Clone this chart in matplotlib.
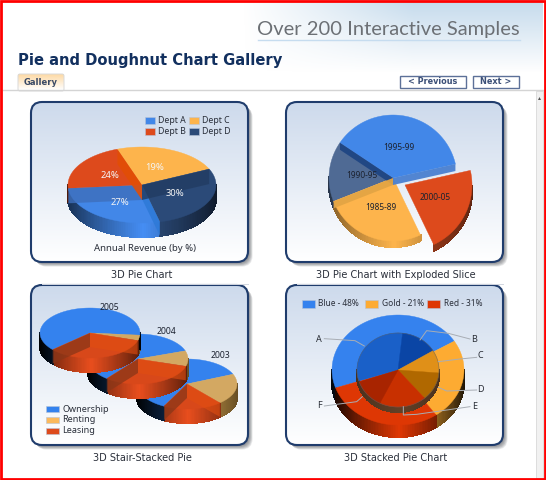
import numpy as np
import matplotlib
matplotlib.use("Agg")
import matplotlib.pyplot as plt
from matplotlib.patches import FancyBboxPatch, Rectangle
from matplotlib.collections import PolyCollection
from matplotlib.colors import to_rgb

# Dane (szerokosc wycinka w % obwodu)
dept_names = ["Dept A", "Dept C", "Dept B", "Dept D"]
dept_shares = [27.5, 21, 23.5, 28]   # blue, red, gold, navy
dept_labels = ["27%", "24%", "19%", "30%"]

period_names = ["1995-99", "2000-05", "1985-89", "1990-95"]
period_shares = [37, 21.5, 26, 15.5]

stair_years = ["2003", "2004", "2005"]
stair_names = ["Ownership", "Renting", "Leasing"]
stair_own = [61, 59, 63]
stair_rent = [20, 10, 3.5]
stair_lease = [19, 31, 33.5]

outer_names = ["Blue - 48%", "Gold - 21%", "Red - 31%"]
outer_shares = [46.5, 24, 29.5]
inner_names = ["A", "B", "C", "D", "E", "F"]
inner_shares = [31.5, 14.5, 10, 12.5, 18.5, 12.5]

BLUE = "#4287e8"
RED = "#dd4a1c"
GOLD = "#fdb44c"
NAVY = "#2b4a78"
SLATE = "#4f6a94"
TEXT = "#2a2f3a"
LABEL_FONT = "Noto Sans"


def shade(color, k):
    return tuple(min(1, c * k) for c in to_rgb(color))


def rim(cx, cy, rx, ry, a):
    # kat liczony od gory zgodnie z ruchem wskazowek zegara
    r = np.radians(a)
    return cx + rx * np.sin(r), cy - ry * np.cos(r)


def angles_from(shares, start):
    edges = [start]
    for s in shares:
        edges.append(edges[-1] + s * 3.6)
    return edges


def top_face(ax, cx, cy, rx, ry, a0, a1, color):
    t = np.linspace(a0, a1, 60)
    xs, ys = rim(cx, cy, rx, ry, t)
    ax.fill(np.r_[cx, xs], np.r_[cy, ys], color=color, lw=0.3)


def wall(ax, cx, cy, rx, ry, depth, a0, a1, color, low=0.35, high=1.05):
    # sciana boczna z gradientem, ciemna na brzegach
    polys, cols = [], []
    steps = np.arange(a0, a1, 1.5)
    for a in steps:
        b = min(a + 1.5, a1)
        if np.cos(np.radians((a + b) / 2)) >= 0:
            continue
        x0, y0 = rim(cx, cy, rx, ry, a)
        x1, y1 = rim(cx, cy, rx, ry, b)
        polys.append([(x0, y0), (x1, y1), (x1, y1 + depth), (x0, y0 + depth)])
        t = abs(np.sin(np.radians((a + b) / 2)))
        cols.append(shade(color, low + (high - low) * (1 - t) ** 0.8))
    if polys:
        ax.add_collection(PolyCollection(polys, facecolors=cols, edgecolors=cols, linewidths=0.8,
                                         antialiaseds=False))


def band(ax, cx, cy, rx, ry, depth, a, color, alpha=0.8):
    # widoczna przez przezroczysty wierzch scianka promieniowa
    x, y = rim(cx, cy, rx, ry, a)
    ax.fill([cx, x, x, cx], [cy, y, y + depth, cy + depth], color=color, alpha=alpha, lw=0)


def panel(ax, x0, y0, x1, y1):
    for i in range(7):
        ax.add_patch(FancyBboxPatch((x0 + 1 + i * 0.6, y0 + 1 + i * 0.6), x1 - x0, y1 - y0,
                                    boxstyle="round,pad=0,rounding_size=11", fc="#30343c",
                                    ec="none", alpha=0.1))
    box = FancyBboxPatch((x0, y0), x1 - x0, y1 - y0, boxstyle="round,pad=0,rounding_size=11",
                         fc="white", ec="none")
    ax.add_patch(box)
    grad = np.linspace(0, 1, 100)[:, None, None]
    img = (1 - grad) * np.array(to_rgb("#cddaec")) + grad * np.array(to_rgb("#ffffff"))
    im = ax.imshow(img, extent=(x0, x1, y1, y0), aspect="auto", zorder=1)
    im.set_clip_path(box)
    ax.add_patch(FancyBboxPatch((x0, y0), x1 - x0, y1 - y0, boxstyle="round,pad=0,rounding_size=11",
                                fc="none", ec="#1f3c6c", lw=1.5))


def legend_item(ax, x, y, w, h, color, label, size=6.3):
    ax.add_patch(Rectangle((x, y - h / 2), w, h, fc=color, ec="#b8c4d8", lw=0.4))
    ax.text(x + w + 3.5, y, label, fontsize=size, va="center", color=TEXT, family=LABEL_FONT)


fig = plt.figure(figsize=(5.46, 4.8), dpi=100)
ax = fig.add_axes([0, 0, 1, 1])

# Naglowek
yy, xx = np.mgrid[0:90, 0:300]
head = np.zeros((90, 300, 4))
head[..., :3] = to_rgb("#c4daec")
head[..., 3] = np.clip(xx / 170, 0, 1) * np.clip(1 - yy / 72, 0, 1)
ax.imshow(head, extent=(243, 543, 90, 0), aspect="auto", zorder=0)
ax.text(257, 29.5, "Over 200 Interactive Samples", fontsize=14.5, family="Lato", color="#6c7075", va="center")
ax.plot([258, 520], [40, 40], color="#c6dcef", lw=1)
ax.text(18, 60.5, "Pie and Doughnut Chart Gallery", fontsize=10.6, weight="bold", color="#12305f", va="center")

# Zakladka i przyciski
tab = np.linspace(0, 1, 40)[:, None, None]
ax.imshow((1 - tab) * np.array(to_rgb("#fdd9a4")) + tab * np.array([1, 1, 1]), extent=(18, 64, 90, 74), aspect="auto")
ax.add_patch(FancyBboxPatch((18, 74), 46, 17, boxstyle="round,pad=0,rounding_size=2", fc="none", ec="#d9d9d9", lw=0.7))
ax.text(41, 82.5, "Gallery", fontsize=6, weight="bold", color="#3a4a66", ha="center", va="center")
for x0, x1, lab in [(400, 465.5, "< Previous"), (472.5, 519, "Next >")]:
    ax.add_patch(Rectangle((x0, 75.5), x1 - x0, 12, fc="white", ec="#5c7098", lw=1))
    ax.text((x0 + x1) / 2, 81.7, lab, fontsize=5.9, weight="bold", color="#3c5078", ha="center", va="center")
ax.plot([3, 543], [90, 90], color="#d4d4d4", lw=1)

# Pasek przewijania
ax.add_patch(Rectangle((536, 91), 7, 387, fc="#f1f1f1", ec="#d8d8d8", lw=0.6))
ax.fill([538, 541, 539.5], [100, 100, 97], color="#555555", lw=0)

# Panele
panel(ax, 31, 102, 248, 262)
panel(ax, 286, 102, 503, 262)
panel(ax, 31, 285, 248, 445)
panel(ax, 286, 285, 503, 445)

# 1. Wykres 3D
cx, cy, rx, ry, depth = 142, 185, 74, 38, 14
colors = [BLUE, RED, GOLD, NAVY]
edges = angles_from(dept_shares, 166)
for i in range(4):
    wall(ax, cx, cy, rx, ry, depth, edges[i], edges[i + 1], colors[i])
for i in range(4):
    top_face(ax, cx, cy, rx, ry, edges[i], edges[i + 1], colors[i])
band(ax, cx, cy, rx, ry, 14, edges[0], "#2f7ad8", 0.9)
band(ax, cx, cy, rx, ry, 15, edges[1], "#3e6fbc")
band(ax, cx, cy, rx, ry, 15, edges[2], "#e24e05", 0.9)
band(ax, cx, cy, rx, ry, 15, edges[3], "#223c62")
label_xy = [(120, 202.5), (110, 176), (155, 168), (175, 194)]
for (x, y), lab in zip(label_xy, dept_labels):
    ax.text(x, y, lab, fontsize=6.8, color="#f4f4f4", ha="center", va="center", family=LABEL_FONT)
for (x, y, c), lab in zip([(145, 120.5, BLUE), (189, 120.5, GOLD), (145, 131.5, RED), (189, 131.5, NAVY)], dept_names):
    legend_item(ax, x, y, 10, 7, c, lab)
ax.text(145, 248.5, "Annual Revenue (by %)", fontsize=6.9, color=TEXT, ha="center", va="center", family=LABEL_FONT)

# 2. Wykres z wysunietym wycinkiem
cx, cy, rx, ry, depth = 393, 178, 64, 63, 6
colors = [BLUE, RED, GOLD, SLATE]
edges = angles_from(period_shares, 304)
for i in (0, 2, 3):
    wall(ax, cx, cy, rx, ry, depth, edges[i], edges[i + 1], colors[i], 0.5, 1.0)
wall(ax, cx + 12, cy + 7, rx + 3, ry + 3, depth, edges[1], edges[2], "#a8401c", 0.55, 1.0)
for i in (3, 2, 0):
    top_face(ax, cx, cy, rx, ry, edges[i], edges[i + 1], colors[i])
band(ax, cx, cy, rx, ry, 7, edges[0], "#1f4583", 0.95)
band(ax, cx, cy, rx, ry, 7, edges[3], "#e3a544", 0.95)
band(ax, cx, cy, rx, ry, 7, edges[1], "#4a80d0", 0.95)
top_face(ax, cx + 12, cy + 7, rx + 3, ry + 3, edges[1], edges[2], RED)
label_xy = [(399, 148), (435, 197), (381, 207.5), (362, 175)]
for (x, y), lab in zip(label_xy, period_names):
    ax.text(x, y, lab, fontsize=6, color="#1c2230", ha="center", va="center", family=LABEL_FONT)

# 3. Schodkowy
stair_pos = [(187, 384), (138, 359), (90, 333)]
year_pos = [(220, 356), (166, 331), (109, 307)]
for k in range(3):
    cx, cy = stair_pos[k]
    rx, ry, depth = 50, 25, 14
    edges = angles_from([stair_rent[k], stair_lease[k], stair_own[k]], [67, 71, 95][k])
    wall_cols = [("#c89848", 0.5, 1.0), (RED, 0.35, 1.05), ("#1c5cae", 0.02, 0.55)]
    for i in range(3):
        wall(ax, cx, cy, rx, ry, depth, edges[i], edges[i + 1], wall_cols[i][0], wall_cols[i][1], wall_cols[i][2])
    top_face(ax, cx, cy, rx, ry, edges[2], edges[3], "#3482ee")
    top_face(ax, cx, cy, rx, ry, edges[0], edges[1], "#d3a862")
    top_face(ax, cx, cy, rx, ry, edges[1], edges[2], "#d8481a")
    band(ax, cx, cy, rx, ry, 14, edges[2], "#8a3618", 0.75)
    band(ax, cx, cy, rx, ry, 14, edges[1], "#e24e10", 0.6)
    ax.text(year_pos[k][0], year_pos[k][1], stair_years[k], fontsize=6.2, color="#1c2230", ha="center", va="center",
            family=LABEL_FONT)
for (y, c), lab in zip([(409, "#3482ee"), (420, "#fbb95c"), (430.5, "#dd4a1c")], stair_names):
    legend_item(ax, 46, y, 13, 6, c, lab, 6.5)

# 4. Podwojny
cx, cy, rx, ry, depth = 398, 370, 66, 55, 12
colors = ["#3582ee", "#fdab32", "#de3704"]
edges = angles_from(outer_shares, 251)
for i, c in enumerate(colors):
    wall(ax, cx, cy, rx, ry, depth, edges[i], edges[i + 1], c, 0.1 if i == 1 else 0.05, 1.0)
for i, c in enumerate(colors):
    top_face(ax, cx, cy, rx, ry, edges[i], edges[i + 1], c)
irx, iry = 41, 37
inner_cols = ["#1a60c8", "#0a45a5", "#e09018", "#b06800", "#c83000", "#a82400"]
edges = angles_from(inner_shares, 253)
wall(ax, cx, cy, irx, iry, 5, 90, 270, "#7a5030", 0.6, 0.8)
for i, c in enumerate(inner_cols):
    top_face(ax, cx, cy, irx, iry, edges[i], edges[i + 1], c)
t = np.linspace(0, 360, 120)
xs, ys = rim(cx, cy, irx, iry, t)
ax.plot(xs, ys, color="#5c5f64", lw=0.5, alpha=0.6)
# linie odniesienia
leaders = {"A": [(148, 176), (240, 182), (268, 198)], "B": [(585, 177), (520, 160), (455, 152), (435, 180)],
           "C": [(605, 232), (555, 237), (490, 245)], "D": [(605, 330), (515, 333), (490, 322)],
           "E": [(585, 380), (425, 403), (385, 405), (385, 380)], "F": [(148, 378), (245, 365), (262, 350)]}
name_pos = {"A": (133, 178), "B": (598, 178), "C": (617, 228), "D": (617, 330), "E": (598, 380), "F": (133, 378)}
for n in inner_names:
    pts = np.array(leaders[n]) / 3 + [275, 280]
    ax.plot(pts[:, 0], pts[:, 1], color="#a8adb4", lw=0.7)
    ax.text(275 + name_pos[n][0] / 3, 280 + name_pos[n][1] / 3, n, fontsize=6.5, color="#2a2e36",
            ha="center", va="center", family=LABEL_FONT)
for x, c, lab in zip([302, 365, 427], colors, outer_names):
    legend_item(ax, x, 304, 13, 8, c, lab, 6)

# Podpisy
ax.text(142, 275.5, "3D Pie Chart", fontsize=7, color=TEXT, ha="center", va="center")
ax.text(396, 275.5, "3D Pie Chart with Exploded Slice", fontsize=7, color=TEXT, ha="center", va="center")
ax.text(142, 458, "3D Stair-Stacked Pie", fontsize=7, color=TEXT, ha="center", va="center")
ax.text(396, 458, "3D Stacked Pie Chart", fontsize=7, color=TEXT, ha="center", va="center")
ax.plot([42, 248], [284, 284], color="#d2d6e0", lw=0.7)
ax.plot([297, 503], [284, 284], color="#d2d6e0", lw=0.7)

# Czerwona ramka zrzutu ekranu
ax.add_patch(Rectangle((1, 1), 544, 477.5, fc="none", ec="#ff0000", lw=2, zorder=5))

ax.set_xlim(0, 546)
ax.set_ylim(480, 0)
ax.axis("off")
fig.savefig("out.png", dpi=100)
